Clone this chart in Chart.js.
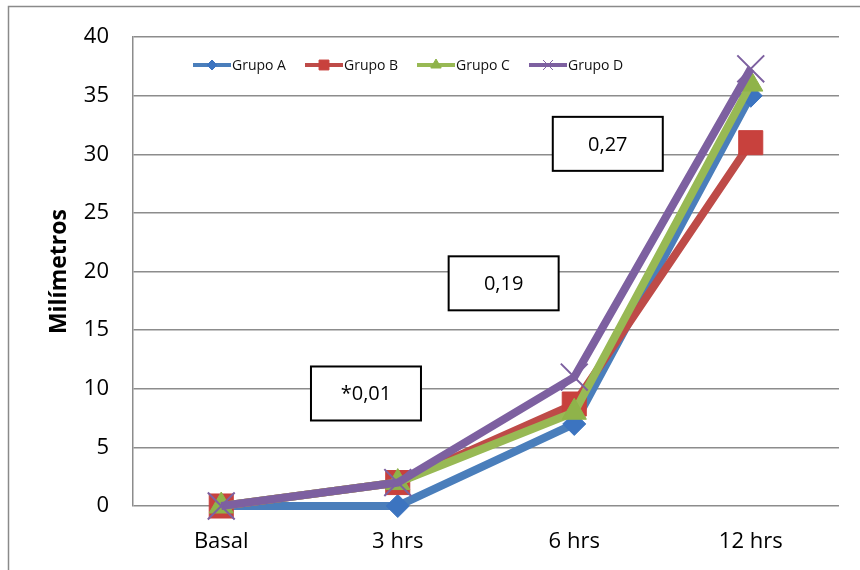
<!DOCTYPE html>
<html>
<head>
<meta charset="utf-8">
<script src="https://cdn.jsdelivr.net/npm/chart.js@4/dist/chart.umd.min.js"></script>
<style>
html,body{margin:0;padding:0;background:#fff;}
#wrap{width:860px;height:570px;position:relative;}
</style>
</head>
<body>
<div id="wrap"><canvas id="c" width="860" height="570"></canvas></div>
<script>
const categories = ['Basal', '3 hrs', '6 hrs', '12 hrs'];
const seriesNames = ['Grupo A', 'Grupo B', 'Grupo C', 'Grupo D'];
const grupoA = [0, 0, 7, 35];
const grupoB = [0, 2, 8.7, 31];
const grupoC = [0, 2, 8, 36];
const grupoD = [0, 2, 11, 37.3];
const yTicks = [0, 5, 10, 15, 20, 25, 30, 35, 40];
const annotationTexts = ['*0,01', '0,19', '0,27'];

const FONT = '"Open Sans", sans-serif';
const colors = ['#4a7ebb', '#be4b48', '#98b954', '#7d60a0'];
const markerFill = ['#3c74c0', '#c8413d', '#8fb34a', '#7d60a0'];
const styles = ['rectRot', 'rect', 'triangle', 'crossRot'];
const radii = [11.5, 17, 14, 19];
const allData = [grupoA, grupoB, grupoC, grupoD];

const datasets = allData.map((d, i) => ({
  label: seriesNames[i],
  data: d,
  borderColor: colors[i],
  backgroundColor: markerFill[i],
  borderWidth: 8,
  pointStyle: styles[i],
  pointRadius: radii[i],
  pointHoverRadius: radii[i],
  pointBorderColor: i === 3 ? colors[i] : markerFill[i],
  pointBorderWidth: i === 3 ? 2 : 1,
  pointBackgroundColor: markerFill[i],
  tension: 0,
  clip: false,
  order: 3 - i
}));

// annotation boxes: [category position, value]
const boxPos = [[0.82, 9.6], [1.6, 19.0], [2.19, 30.9]];

const extras = {
  id: 'extras',
  beforeDraw(chart) {
    const ctx = chart.ctx;
    ctx.save();
    ctx.strokeStyle = '#8a8a8a';
    ctx.lineWidth = 1.5;
    ctx.beginPath();
    ctx.moveTo(8.5, 570);
    ctx.lineTo(8.5, 6.5);
    ctx.lineTo(860, 6.5);
    ctx.stroke();
    ctx.restore();
  },
  afterDatasetsDraw(chart) {
    const ctx = chart.ctx;
    const xs = chart.scales.x, ys = chart.scales.y;
    ctx.save();
    annotationTexts.forEach((t, i) => {
      const p = boxPos[i];
      const x0 = xs.getPixelForValue(0), x1 = xs.getPixelForValue(1);
      const cx = x0 + (x1 - x0) * p[0];
      const cy = ys.getPixelForValue(p[1]);
      const w = 110, h = 54;
      ctx.fillStyle = '#fff';
      ctx.fillRect(cx - w / 2, cy - h / 2, w, h);
      ctx.strokeStyle = '#000';
      ctx.lineWidth = 2;
      ctx.strokeRect(cx - w / 2, cy - h / 2, w, h);
      ctx.fillStyle = '#000';
      ctx.font = '20px ' + FONT;
      ctx.textAlign = 'center';
      ctx.textBaseline = 'middle';
      ctx.fillText(t, cx, cy + 1);
    });
    // legend
    let x = 193;
    const y = 65;
    ctx.font = '14px ' + FONT;
    ctx.textAlign = 'left';
    ctx.textBaseline = 'middle';
    seriesNames.forEach((n, i) => {
      ctx.strokeStyle = colors[i];
      ctx.lineWidth = 4;
      ctx.beginPath();
      ctx.moveTo(x, y);
      ctx.lineTo(x + 38, y);
      ctx.stroke();
      ctx.fillStyle = markerFill[i];
      ctx.strokeStyle = i === 3 ? colors[i] : markerFill[i];
      ctx.lineWidth = 1;
      Chart.helpers.drawPoint(ctx, {pointStyle: styles[i], rotation: 0, radius: [5, 7, 6, 7][i], borderWidth: 1}, x + 19, y);
      ctx.fillStyle = '#111';
      ctx.fillText(n, x + 39, y + 1);
      x += 112;
    });
    ctx.restore();
  }
};

new Chart(document.getElementById('c'), {
  type: 'line',
  data: { labels: categories, datasets },
  options: {
    responsive: false,
    animation: false,
    devicePixelRatio: 1,
    layout: { padding: { left: 0, right: 17, top: 36, bottom: 4 } },
    plugins: { legend: { display: false }, tooltip: { enabled: false } },
    scales: {
      x: {
        offset: true,
        grid: { display: false, drawTicks: false },
        border: { display: false },
        ticks: { color: '#000', font: { family: FONT, size: 22 }, padding: 23 },
        afterFit(s) { s.height = 60; }
      },
      y: {
        min: 0, max: 40,
        afterBuildTicks(s) { s.ticks = yTicks.map(v => ({ value: v })); },
        grid: { color: '#8c8c8c', lineWidth: 1.5, drawTicks: false },
        border: { display: true, color: '#8c8c8c', width: 1.5 },
        ticks: { color: '#000', font: { family: FONT, size: 22 }, padding: 24 },
        title: { display: true, text: 'Milímetros', color: '#000', font: { family: FONT, size: 23, weight: 'bold' }, padding: { top: 46, bottom: 0 } },
        afterFit(s) { s.width = 133; }
      }
    }
  },
  plugins: [extras]
});
</script>
</body>
</html>
